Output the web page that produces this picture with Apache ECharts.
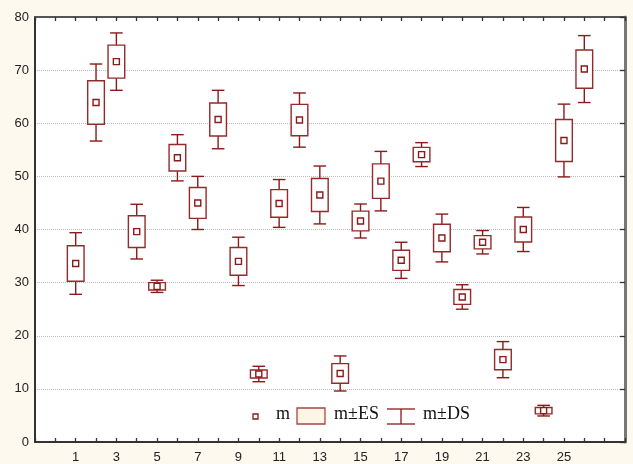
<!DOCTYPE html>
<html><head><meta charset="utf-8">
<script src="https://cdn.jsdelivr.net/npm/echarts@6/dist/echarts.min.js"></script>
<style>html,body{margin:0;padding:0;background:#fdf9ee}#c{width:633px;height:464px}</style>
</head><body><div id="c"></div>
<script>
const groups = [1,2,3,4,5,6,7,8,9,10,11,12,13,14,15,16,17,18,19,20,21,22,23,24,25,26];
const means = [33.6,63.9,71.6,39.6,29.3,53.5,45.0,60.7,34.0,12.8,44.9,60.6,46.5,12.9,41.6,49.1,34.2,54.1,38.4,27.3,37.6,15.5,40.0,5.9,56.75,70.2];
const es = [3.35,4.1,3.1,3.0,0.7,2.5,2.9,3.1,2.6,0.75,2.6,2.95,3.1,1.85,1.85,3.25,1.9,1.35,2.6,1.4,1.25,1.9,2.35,0.6,3.95,3.6];
const ds = [5.8,7.25,5.4,5.15,1.15,4.35,5.0,5.5,4.55,1.45,4.5,5.1,5.45,3.3,3.2,5.6,3.4,2.25,4.5,2.3,2.2,3.4,4.15,1.0,6.85,6.3];
const xTickLabels = ['1','3','5','7','9','11','13','15','17','19','21','23','25'];
const legendNames = ['m','m±ES','m±DS'];

const RED = '#8b1a1a';
const data = groups.map((g,i)=>[g, means[i], es[i], ds[i]]);

function renderItem(params, api){
  const x = api.value(0), m = api.value(1), e = api.value(2), d = api.value(3);
  const c = api.coord([x, m]);
  const pTopD = api.coord([x, m + d]), pTopE = api.coord([x, m + e]);
  const pBotE = api.coord([x, m - e]), pBotD = api.coord([x, m - d]);
  const unit = api.size([1, 0])[0];
  const bw = unit * 0.82, cw = unit * 0.62, ms = 6;
  const st = {stroke: RED, fill: null, lineWidth: 1.4};
  return {type:'group', children:[
    {type:'line', shape:{x1:c[0], y1:pTopD[1], x2:c[0], y2:pTopE[1]}, style:st},
    {type:'line', shape:{x1:c[0], y1:pBotE[1], x2:c[0], y2:pBotD[1]}, style:st},
    {type:'line', shape:{x1:c[0]-cw/2, y1:pTopD[1], x2:c[0]+cw/2, y2:pTopD[1]}, style:st},
    {type:'line', shape:{x1:c[0]-cw/2, y1:pBotD[1], x2:c[0]+cw/2, y2:pBotD[1]}, style:st},
    {type:'rect', shape:{x:c[0]-bw/2, y:pTopE[1], width:bw, height:pBotE[1]-pTopE[1]}, style:{stroke:'#952a2a', fill:'#fff', lineWidth:1.4}},
    {type:'rect', shape:{x:c[0]-ms/2, y:c[1]-ms/2, width:ms, height:ms}, style:{stroke:RED, fill:'#fff', lineWidth:1.4}}
  ]};
}

const chart = echarts.init(document.getElementById('c'), null, {renderer:'canvas'});
const lblFont = {fontFamily:'Liberation Sans, Arial', fontSize:13, color:'#222'};
const serif = 'Liberation Serif, Times New Roman, serif';
chart.setOption({
  backgroundColor:'#fdf9ee',
  animation:false,
  grid:{left:35, top:17, right:8, bottom:19, show:true, backgroundColor:'#fff', borderWidth:0},
  xAxis:[
    {type:'value', min:-1, max:28, interval:1, position:'bottom',
     axisLine:{show:true, onZero:false, lineStyle:{color:'#333', width:2}},
     axisTick:{show:true, inside:true, length:4, lineStyle:{color:'#333', width:1.3}},
     splitLine:{show:false},
     axisLabel:Object.assign({margin:9, formatter:v=>xTickLabels.includes(String(v))?String(v):''}, lblFont)},
    {type:'value', min:-1, max:28, interval:1, position:'top',
     axisLine:{show:true, onZero:false, lineStyle:{color:'#555', width:2}},
     axisTick:{show:true, inside:true, length:4, lineStyle:{color:'#333', width:1.3}},
     splitLine:{show:false}, axisLabel:{show:false}}
  ],
  yAxis:[
    {type:'value', min:0, max:80, interval:10, position:'left',
     axisLine:{show:true, onZero:false, lineStyle:{color:'#333', width:2}},
     axisTick:{show:false},
     splitLine:{show:true, lineStyle:{color:'#bdbdbd', type:[1,1], width:1}},
     axisLabel:Object.assign({margin:6}, lblFont)},
    {type:'value', min:0, max:80, interval:10, position:'right',
     axisLine:{show:true, onZero:false, lineStyle:{color:'#777', width:3}},
     axisTick:{show:true, inside:true, length:5, lineStyle:{color:'#333', width:1.3}},
     splitLine:{show:false}, axisLabel:{show:false}}
  ],
  series:[{type:'custom', name:legendNames[0], renderItem:renderItem, data:data, encode:{x:0, y:1}, clip:false}],
  graphic:[
    {type:'rect', shape:{x:253, y:414, width:5, height:5}, style:{stroke:RED, fill:'#fff', lineWidth:1.3}},
    {type:'text', left:276, top:405, style:{text:legendNames[0], font:'18px '+serif, fill:'#111'}},
    {type:'rect', shape:{x:297, y:408, width:28, height:16}, style:{stroke:'#a44', fill:'#fdf6e6', lineWidth:1.3}},
    {type:'text', left:334, top:405, style:{text:legendNames[1], font:'18px '+serif, fill:'#111'}},
    {type:'line', shape:{x1:387, y1:409, x2:415, y2:409}, style:{stroke:RED, lineWidth:1.3}},
    {type:'line', shape:{x1:387, y1:424, x2:415, y2:424}, style:{stroke:RED, lineWidth:1.3}},
    {type:'line', shape:{x1:401, y1:409, x2:401, y2:424}, style:{stroke:RED, lineWidth:1.3}},
    {type:'text', left:423, top:405, style:{text:legendNames[2], font:'18px '+serif, fill:'#111'}}
  ]
});
</script></body></html>
